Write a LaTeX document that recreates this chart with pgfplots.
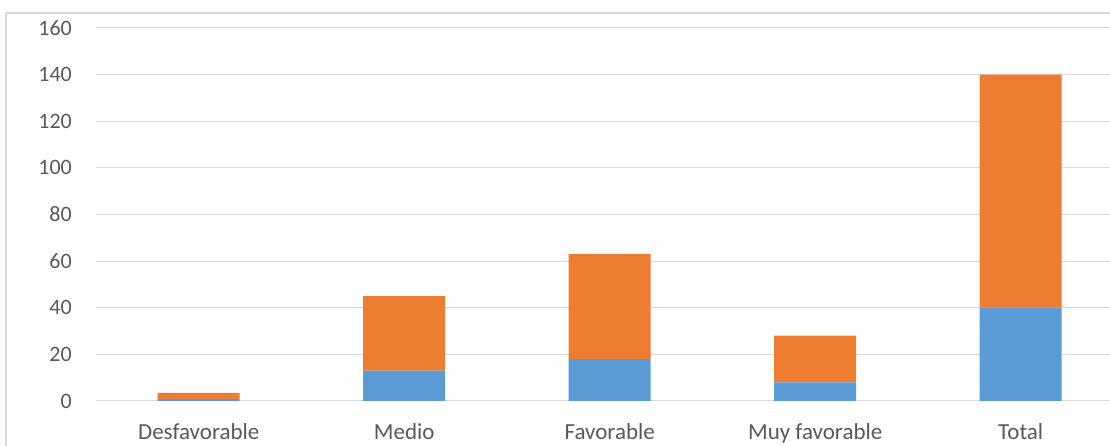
\documentclass[border=0pt]{standalone}
\usepackage{pgfplots}
\pgfplotsset{compat=1.18}
\usepackage{fontspec}
\setmainfont{Carlito}
\definecolor{cblue}{HTML}{5B9BD5}
\definecolor{corange}{HTML}{ED7D31}
\definecolor{cgrid}{HTML}{D9D9D9}
\definecolor{ctext}{HTML}{595959}
\begin{document}
\begin{tikzpicture}
\useasboundingbox (-96pt,-45pt) rectangle (1014pt,401pt);
\clip (-96pt,-45pt) rectangle (1014pt,401pt);
\draw[cgrid, line width=1.2pt] (-90pt,-80pt) -- (-90pt,388pt) -- (1100pt,388pt);
\begin{axis}[
  at={(0pt,0pt)}, anchor=south west,
  scale only axis, width=1027.5pt, height=373pt,
  ybar stacked, bar width=82pt,
  xmin=-0.5, xmax=4.5, ymin=0, ymax=160,
  xtick=data,
  xticklabels={Desfavorable,Medio,Favorable,Muy favorable,Total},
  ytick={0,20,...,160},
  major tick length=0pt,
  axis line style={draw=none},
  ymajorgrids, grid style={cgrid, line width=1pt},
  axis x line*=bottom,
  yticklabel style={font=\fontsize{22}{24}\selectfont, text=ctext, anchor=east, inner sep=0pt, xshift=-24pt},
  xticklabel style={font=\fontsize{23}{25}\selectfont, text=ctext, anchor=base, inner sep=0pt, yshift=-39pt},
  /pgf/number format/assume math mode=true,
  clip=false,
]
\addplot[fill=cblue, draw=none] coordinates {(0,0.8) (1,13) (2,18) (3,8) (4,40)};
\addplot[fill=corange, draw=none] coordinates {(0,2.7) (1,32) (2,45) (3,20) (4,100)};
\end{axis}
\end{tikzpicture}
\end{document}
